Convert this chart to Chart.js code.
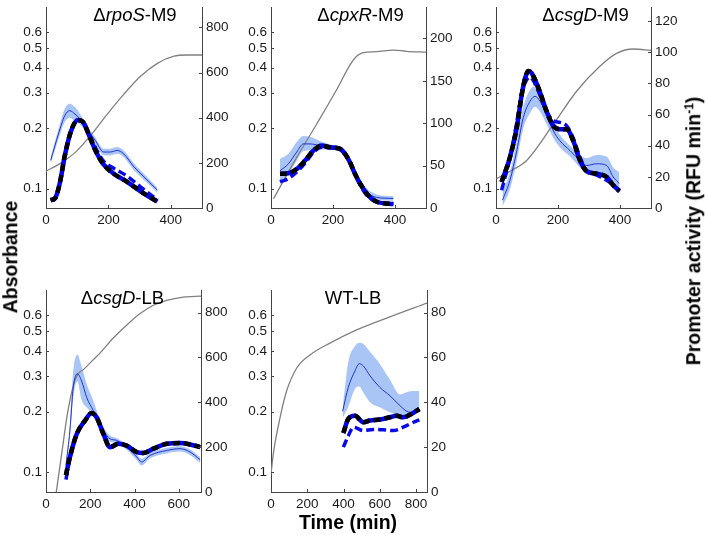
<!DOCTYPE html>
<html>
<head>
<meta charset="utf-8">
<script src="https://cdn.jsdelivr.net/npm/chart.js@4.4.0/dist/chart.umd.min.js"></script>
<style>
  body { margin: 0; width: 706px; height: 535px; position: relative; background: #fff; overflow: hidden;
         font-family: "Liberation Sans", Arial, Helvetica, sans-serif; }
  canvas { position: absolute; }
  .lab { position: absolute; font-weight: bold; font-size: 19.5px; line-height: 1; white-space: nowrap; color: #000; }
  .lab sup { font-size: 12px; line-height: 0; }
</style>
</head>
<body>
<canvas id="c1"></canvas>
<canvas id="c2"></canvas>
<canvas id="c3"></canvas>
<canvas id="c4"></canvas>
<canvas id="c5"></canvas>
<div class="lab" style="left:11px;top:257px;transform:translate(-50%,-50%) rotate(-90deg);">Absorbance</div>
<div class="lab" style="left:694px;top:231px;transform:translate(-50%,-50%) rotate(-90deg);">Promoter activity (RFU min<sup>-1</sup>)</div>
<div class="lab" style="left:348px;top:523px;transform:translate(-50%,-50%);">Time (min)</div>
<script>
// ΔrpoS-M9
const rposGrayTime = [0, 45, 99, 147, 196, 249, 303, 357, 410, 450, 500];
const rposGrayAbs = [0.122, 0.133, 0.154, 0.187, 0.234, 0.294, 0.362, 0.42, 0.456, 0.462, 0.462];
const rposBlueTime = [15, 40, 60, 76, 93, 109, 131, 158, 185, 206, 228, 249, 282, 314, 357];
const rposBlue = [211, 328, 409, 431, 416, 394, 350, 299, 248, 248, 255, 240, 182, 138, 79];
const rposBandHi = [226, 350, 440, 462, 446, 418, 366, 312, 262, 263, 270, 255, 197, 152, 90];
const rposBandLo = [196, 306, 380, 400, 386, 370, 334, 286, 234, 233, 240, 225, 167, 124, 68];
const rposFitTime = [15, 30, 45, 60, 80, 102, 118, 140, 162, 185, 217, 260, 303, 357];
const rposBlack = [35, 45, 115, 230, 340, 390, 382, 315, 245, 192, 152, 116, 74, 28];
const rposDashed = [32, 42, 112, 228, 338, 388, 384, 322, 258, 207, 176, 141, 94, 36];

// ΔcpxR-M9
const cpxrGrayTime = [8, 83, 147, 212, 255, 276, 295, 340, 395, 437, 500];
const cpxrGrayAbs = [0.089, 0.143, 0.209, 0.311, 0.413, 0.455, 0.474, 0.48, 0.489, 0.482, 0.477];
const cpxrBlueTime = [29, 56, 83, 104, 126, 158, 190, 223, 255, 276, 309, 341, 395];
const cpxrBlue = [44, 52, 66, 75.6, 75.6, 73.6, 72, 69.7, 56, 36.6, 19, 12.5, 11.3];
const cpxrBandHi = [58, 64, 78, 85, 84, 79, 75, 72, 59, 40, 23, 16, 14];
const cpxrBandLo = [32, 40, 56, 67, 68, 69, 69, 67, 53, 33, 15, 9, 8.5];
const cpxrFitTime = [29, 56, 83, 110, 137, 163, 190, 223, 249, 276, 309, 341, 395];
const cpxrBlack = [40.5, 41, 46, 56, 67.8, 73.6, 71.6, 69.7, 58, 36.6, 17, 7.4, 4.7];
const cpxrDashed = [30.7, 34.7, 42.4, 53, 65.8, 71.6, 71, 69, 57, 35, 15, 7.4, 4.7];

// ΔcsgD-M9
const csgdGrayTime = [2, 50, 99, 185, 260, 335, 389, 443, 500];
const csgdGrayAbs = [0.112, 0.123, 0.138, 0.209, 0.305, 0.406, 0.471, 0.495, 0.487];
const csgdBlueTime = [21, 45, 67, 88, 110, 126, 142, 163, 185, 206, 239, 271, 292, 325, 357, 378, 398];
const csgdBlue = [5, 17.8, 36.8, 58, 68.6, 71.7, 68.6, 60, 49.5, 43.2, 36.8, 30.5, 27.3, 28.4, 27.3, 19.9, 15.7];
const csgdBandHi = [11, 23, 43, 65, 76, 78, 75, 66, 54, 47, 40, 34, 32, 34, 33, 26, 23];
const csgdBandLo = [1, 12, 30, 51, 61, 65, 62, 54, 45, 39, 33, 26, 23, 22, 21, 14, 9];
const csgdBlackTime = [18, 45, 67, 83, 94, 104, 115, 137, 163, 185, 206, 228, 249, 271, 292, 325, 357, 378, 398];
const csgdBlack = [16.7, 32.6, 51.6, 72.8, 83.4, 88, 86.6, 77, 62.2, 52.7, 50.6, 50.6, 43.2, 30.5, 23.7, 22, 19.9, 14.6, 11];
const csgdDashTime = [18, 45, 67, 83, 98, 110, 130, 163, 185, 206, 228, 249, 271, 292, 325, 357, 378, 398];
const csgdDashed = [11.4, 32, 55, 74, 82, 84, 78, 62, 56, 55, 52.7, 45, 32.6, 24, 21, 17.8, 14.6, 10.4];

// ΔcsgD-LB
const lbGrayTime = [45, 71, 95, 120, 142, 169, 214, 244, 304, 364, 425, 485, 545, 620, 700];
const lbGrayAbs = [0.078, 0.124, 0.19, 0.26, 0.305, 0.323, 0.362, 0.39, 0.463, 0.536, 0.612, 0.673, 0.712, 0.739, 0.747];
const lbBlueTime = [90, 108, 123, 142, 161, 184, 214, 244, 274, 289, 319, 364, 410, 432, 470, 545, 605, 651, 696];
const lbBlue = [119, 274, 465, 527, 494, 421, 362, 303, 252, 237, 230, 200, 156, 134, 163, 185, 193, 178, 144];
const lbBandHi = [125, 300, 539, 612, 560, 480, 406, 320, 268, 252, 240, 212, 168, 148, 174, 197, 204, 190, 156];
const lbBandLo = [113, 250, 421, 494, 410, 377, 340, 288, 238, 224, 218, 188, 142, 118, 150, 172, 180, 164, 130];
const lbFitTime = [90, 108, 139, 176, 206, 229, 259, 289, 327, 364, 410, 440, 485, 545, 605, 651, 696];
const lbBlack = [75, 156, 259, 318, 352, 332, 259, 200, 215, 207, 178, 174, 193, 215, 218, 212, 200];
const lbDashed = [55, 150, 257, 318, 350, 332, 260, 202, 214, 206, 178, 173, 192, 213, 217, 211, 199];

// WT-LB
const wtGrayTime = [0, 13, 50, 86, 142, 215, 325, 472, 656, 860];
const wtGrayAbs = [0.098, 0.124, 0.187, 0.253, 0.329, 0.382, 0.437, 0.508, 0.59, 0.69];
const wtBlueTime = [395, 426, 463, 487, 509, 546, 601, 656, 711, 748, 785, 818];
const wtBlue = [36, 46.6, 54, 57.2, 56.2, 51.8, 46.6, 42.9, 38.5, 36, 35.5, 36.6];
const wtBandHi = [38, 58, 65, 66.5, 66, 62.5, 57, 50, 43.5, 44.5, 45, 45];
const wtBandLo = [33, 38, 46, 47, 44.4, 40, 37.7, 35.5, 34, 34, 34.5, 36];
const wtBlackTime = [399, 426, 463, 509, 546, 601, 656, 693, 729, 775, 818];
const wtBlack = [26.3, 32.6, 34, 31.1, 31.9, 32.3, 33.3, 34, 33.3, 34.8, 37];
const wtDashTime = [399, 426, 454, 509, 564, 619, 675, 729, 785, 818];
const wtDashed = [20, 25, 28.9, 27.4, 27.9, 27.7, 27.4, 28.9, 31.1, 32.2];

// shared axis ticks
const absTicks = [0.1, 0.2, 0.3, 0.4, 0.5, 0.6];

const axisColor = "#444";
const tickFont = { family: "'Liberation Sans', Arial, Helvetica, sans-serif", size: 13.5 };

const panels = [
  { id: "c1", box: [46, 5, 202, 208], xMax: 500, xTicks: [0, 200, 400], rMax: 890, rTicks: [0, 200, 400, 600, 800],
    title: [["Δ", false], ["rpoS", true], ["-M9", false]], titleDx: 11,
    gray: [rposGrayTime, rposGrayAbs], blue: [rposBlueTime, rposBlue, rposBandHi, rposBandLo],
    black: [rposFitTime, rposBlack], dashed: [rposFitTime, rposDashed] },
  { id: "c2", box: [271, 5, 426, 208], xMax: 500, xTicks: [0, 200, 400], rMax: 237, rTicks: [0, 50, 100, 150, 200],
    title: [["Δ", false], ["cpxR", true], ["-M9", false]], titleDx: 12,
    gray: [cpxrGrayTime, cpxrGrayAbs], blue: [cpxrBlueTime, cpxrBlue, cpxrBandHi, cpxrBandLo],
    black: [cpxrFitTime, cpxrBlack], dashed: [cpxrFitTime, cpxrDashed] },
  { id: "c3", box: [496, 5, 651, 208], xMax: 500, xTicks: [0, 200, 400], rMax: 129, rTicks: [0, 20, 40, 60, 80, 100, 120],
    title: [["Δ", false], ["csgD", true], ["-M9", false]], titleDx: 12,
    gray: [csgdGrayTime, csgdGrayAbs], blue: [csgdBlueTime, csgdBlue, csgdBandHi, csgdBandLo],
    black: [csgdBlackTime, csgdBlack], dashed: [csgdDashTime, csgdDashed] },
  { id: "c4", box: [46, 288, 201, 492], xMax: 700, xTicks: [0, 200, 400, 600], rMax: 900, rTicks: [0, 200, 400, 600, 800],
    title: [["Δ", false], ["csgD", true], ["-LB", false]], titleDx: -1,
    gray: [lbGrayTime, lbGrayAbs], blue: [lbBlueTime, lbBlue, lbBandHi, lbBandLo],
    black: [lbFitTime, lbBlack], dashed: [lbFitTime, lbDashed] },
  { id: "c5", box: [271, 288, 427, 492], xMax: 860, xTicks: [0, 200, 400, 600, 800], rMax: 90, rTicks: [0, 20, 40, 60, 80],
    title: [["WT-LB", false]], titleDx: 4,
    gray: [wtGrayTime, wtGrayAbs], blue: [wtBlueTime, wtBlue, wtBandHi, wtBandLo],
    black: [wtBlackTime, wtBlack], dashed: [wtDashTime, wtDashed] },
];

function pts(times, values) {
  return times.map((t, i) => ({ x: t, y: values[i] }));
}

// MATLAB style ticks pointing into the plot
const innerTicks = {
  id: "innerTicks",
  afterDraw(chart) {
    const ctx = chart.ctx;
    const a = chart.chartArea;
    const { x, y, y2 } = chart.scales;
    ctx.save();
    ctx.strokeStyle = axisColor;
    ctx.lineWidth = 1;
    ctx.beginPath();
    x.ticks.forEach((t) => {
      const px = Math.round(x.getPixelForValue(t.value)) + 0.5;
      ctx.moveTo(px, a.bottom);
      ctx.lineTo(px, a.bottom - 3);
    });
    y.ticks.forEach((t) => {
      const py = Math.round(y.getPixelForValue(t.value)) + 0.5;
      ctx.moveTo(a.left, py);
      ctx.lineTo(a.left + 3, py);
    });
    y2.ticks.forEach((t) => {
      const py = Math.round(y2.getPixelForValue(t.value)) + 0.5;
      ctx.moveTo(a.right, py);
      ctx.lineTo(a.right - 3, py);
    });
    ctx.stroke();
    ctx.restore();
  },
};

const panelTitle = {
  id: "panelTitle",
  afterDraw(chart, args, opts) {
    const ctx = chart.ctx;
    const a = chart.chartArea;
    const fontFor = (it) => (it ? "italic " : "") + "18.5px 'Liberation Sans', Arial, Helvetica, sans-serif";
    ctx.save();
    let total = 0;
    opts.parts.forEach(([txt, it]) => {
      ctx.font = fontFor(it);
      total += ctx.measureText(txt).width;
    });
    let cx = (a.left + a.right) / 2 + opts.dx - total / 2;
    ctx.fillStyle = "#000";
    ctx.textAlign = "left";
    ctx.textBaseline = "alphabetic";
    opts.parts.forEach(([txt, it]) => {
      ctx.font = fontFor(it);
      ctx.fillText(txt, cx, a.top + 13.5);
      cx += ctx.measureText(txt).width;
    });
    ctx.restore();
  },
};

function createPanel(p) {
  const [L, T, R, B] = p.box;
  const canvas = document.getElementById(p.id);
  canvas.width = R - L + 82;
  canvas.height = B - T + 34;
  canvas.style.left = L - 40 + "px";
  canvas.style.top = T - 10 + "px";

  const [bt, bv, bhi, blo] = p.blue;
  const datasets = [
    { data: pts(p.black[0], p.black[1]), yAxisID: "y2", borderColor: "#000", borderWidth: 4.5,
      borderDash: [7, 4], order: 0 },
    { data: pts(p.black[0], p.black[1]), yAxisID: "y2", borderColor: "#0000ee", borderWidth: 4.5, order: 1 },
    { data: pts(p.dashed[0], p.dashed[1]), yAxisID: "y2", borderColor: "#0a0ae6", borderWidth: 3.5,
      borderDash: [8, 4], order: 2 },
    { data: pts(bt, bv), yAxisID: "y2", borderColor: "#2233cc", borderWidth: 1, order: 3 },
    { data: pts(p.gray[0], p.gray[1]), yAxisID: "y", borderColor: "#808080", borderWidth: 1.3, order: 4 },
    { data: pts(bt, bhi), yAxisID: "y2", borderColor: "rgba(0,0,0,0)", borderWidth: 0,
      backgroundColor: "#a9c5f5", fill: "+1", order: 6 },
    { data: pts(bt, blo), yAxisID: "y2", borderColor: "rgba(0,0,0,0)", borderWidth: 0, order: 7 },
  ];

  const config = {
    type: "line",
    data: { datasets },
    options: {
      responsive: false,
      animation: false,
      events: [],
      layout: { padding: { top: 10, left: 0, right: 0, bottom: 0 } },
      elements: {
        point: { radius: 0 },
        line: { cubicInterpolationMode: "monotone", fill: false },
      },
      plugins: {
        legend: { display: false },
        tooltip: { enabled: false },
        panelTitle: { parts: p.title, dx: p.titleDx },
      },
      scales: {
        x: {
          type: "linear", min: 0, max: p.xMax,
          afterBuildTicks: (s) => { s.ticks = p.xTicks.map((v) => ({ value: v })); },
          afterFit: (s) => { s.height = 24; },
          grid: { display: false, drawTicks: false },
          border: { display: true, color: axisColor, width: 1 },
          ticks: { font: tickFont, color: "#1a1a1a", padding: 4, maxRotation: 0, autoSkip: false },
        },
        y: {
          type: "logarithmic", position: "left", min: 0.08, max: 0.8,
          afterBuildTicks: (s) => { s.ticks = absTicks.map((v) => ({ value: v })); },
          afterFit: (s) => { s.width = 40; },
          grid: { display: false, drawTicks: false },
          border: { display: true, color: axisColor, width: 1 },
          ticks: { font: tickFont, color: "#1a1a1a", padding: 4, callback: (v) => String(v) },
        },
        y2: {
          type: "linear", position: "right", min: 0, max: p.rMax,
          afterBuildTicks: (s) => { s.ticks = p.rTicks.map((v) => ({ value: v })); },
          afterFit: (s) => { s.width = 42; },
          grid: { display: false, drawTicks: false },
          border: { display: true, color: axisColor, width: 1 },
          ticks: { font: tickFont, color: "#1a1a1a", padding: 4, callback: (v) => String(v) },
        },
      },
    },
    plugins: [innerTicks, panelTitle],
  };
  return new Chart(canvas, config);
}

panels.forEach((p) => createPanel(p));
</script>
</body>
</html>
